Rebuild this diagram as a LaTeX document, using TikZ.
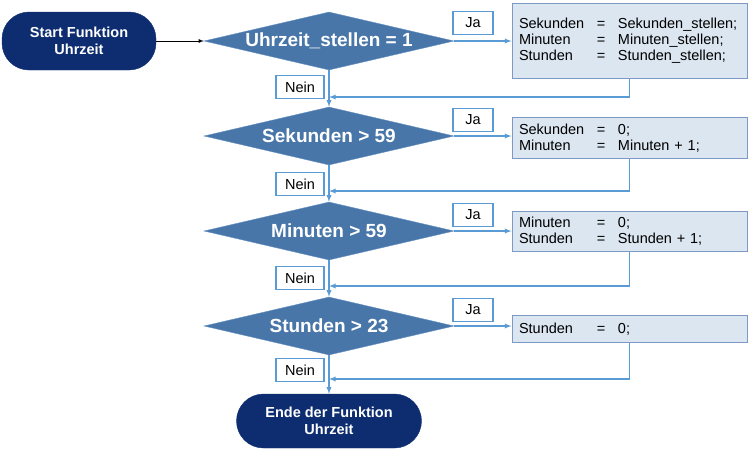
\documentclass[tikz,border=0pt]{standalone}
\usepackage{fontspec}
\setmainfont{Liberation Sans}
\usetikzlibrary{shapes, arrows.meta, positioning}
\definecolor{navy}{RGB}{14,45,112}
\definecolor{raute}{RGB}{72,118,168}
\definecolor{rautenrand}{RGB}{98,143,194}
\definecolor{linie}{RGB}{91,155,213}
\definecolor{kasten}{RGB}{220,230,241}
\definecolor{kastenrand}{RGB}{125,153,196}
\tikzstyle{terminal} = [draw=navy, fill=navy, rectangle, rounded corners=27pt, text=white, align=center, font=\fontsize{14.5}{16.5}\selectfont\bfseries]
\tikzstyle{decision} = [draw=rautenrand, fill=raute, diamond, aspect=4.3, inner sep=0pt, minimum width=250pt, minimum height=58pt, text=white, font=\fontsize{19}{22}\selectfont\bfseries]
\tikzstyle{block} = [draw=kastenrand, fill=kasten, rectangle, line width=1pt, text width=221pt, inner xsep=7pt, inner ysep=4pt, align=left, font=\fontsize{14.5}{16}\selectfont]
\tikzstyle{marke} = [draw=linie, fill=white, rectangle, line width=1.2pt, minimum width=40pt, minimum height=23pt, inner xsep=9pt, font=\fontsize{14.5}{16}\selectfont]
\tikzstyle{pfeil} = [draw=linie, line width=1.3pt]
\newcommand{\zuw}[2]{\makebox[78pt][l]{#1}\makebox[21pt][l]{=}#2}

\begin{document}
\begin{tikzpicture}[auto,>=latex,node distance=95pt]
      \useasboundingbox (0,0) rectangle (752pt,-451pt);
      % Abfragen
      \node[decision] (d1) at (329pt,-41pt) {Uhrzeit\_stellen = 1};
      \node[decision, below of=d1] (d2) {Sekunden > 59};
      \node[decision, below of=d2] (d3) {Minuten > 59};
      \node[decision, below of=d3] (d4) {Stunden > 23};
      \node[terminal, left of=d1, node distance=250pt, minimum width=154pt, minimum height=58pt] (start) {Start Funktion\\Uhrzeit};
      \node[terminal, below of=d4, minimum width=185pt, minimum height=54pt] (stop) {Ende der Funktion\\Uhrzeit};
      % Zuweisungen
      \node[block, right of=d1, node distance=300.5pt, minimum height=75pt] (b1) {\zuw{Sekunden}{Sekunden\_stellen;}\\\zuw{Minuten}{Minuten\_stellen;}\\\zuw{Stunden}{Stunden\_stellen;}};
      \node[block, right of=d2, node distance=300.5pt, yshift=-2pt, minimum height=41pt] (b2) {\zuw{Sekunden}{0;}\\\zuw{Minuten}{Minuten + 1;}};
      \node[block, right of=d3, node distance=300.5pt, minimum height=40pt] (b3) {\zuw{Minuten}{0;}\\\zuw{Stunden}{Stunden + 1;}};
      \node[block, right of=d4, node distance=300.5pt, yshift=-3pt, minimum height=27pt] (b4) {\zuw{Stunden}{0;}};
      % Ja / Nein
      \node[marke, right of=d1, node distance=144pt, yshift=18pt] (j1) {Ja};
      \node[marke, right of=d2, node distance=144pt, yshift=16pt] (j2) {Ja};
      \node[marke, right of=d3, node distance=144pt, yshift=16pt] (j3) {Ja};
      \node[marke, right of=d4, node distance=144pt, yshift=16pt] (j4) {Ja};
      \node[marke, below of=d1, node distance=46pt, xshift=-29pt] (n1) {Nein};
      \node[marke, below of=d2, node distance=48pt, xshift=-29pt] (n2) {Nein};
      \node[marke, below of=d3, node distance=47pt, xshift=-29pt] (n3) {Nein};
      \node[marke, below of=d4, node distance=44pt, xshift=-29pt] (n4) {Nein};
      \coordinate[above of=d2, node distance=39pt] (r1);
      \coordinate[above of=d3, node distance=40pt] (r2);
      \coordinate[above of=d4, node distance=40pt] (r3);
      \coordinate[above of=stop, node distance=42pt] (r4);
      % Verbindungen
      \draw[->, line width=0.8pt] (start) -- (d1);
      \draw[->, pfeil] (d1) -- (d2);
      \draw[->, pfeil] (d2) -- (d3);
      \draw[->, pfeil] (d3) -- (d4);
      \draw[->, pfeil] (d4) -- (stop);
      \draw[->, pfeil] (d1) -- (b1);
      \draw[->, pfeil] (d2.east) -- (d2.east -| b2.west);
      \draw[->, pfeil] (d3) -- (b3);
      \draw[->, pfeil] (d4.east) -- (d4.east -| b4.west);
      \draw[->, pfeil] (b1.south) |- (r1);
      \draw[->, pfeil] (b2.south) |- (r2);
      \draw[->, pfeil] (b3.south) |- (r3);
      \draw[->, pfeil] (b4.south) |- (r4);
    \end{tikzpicture}
\end{document}
